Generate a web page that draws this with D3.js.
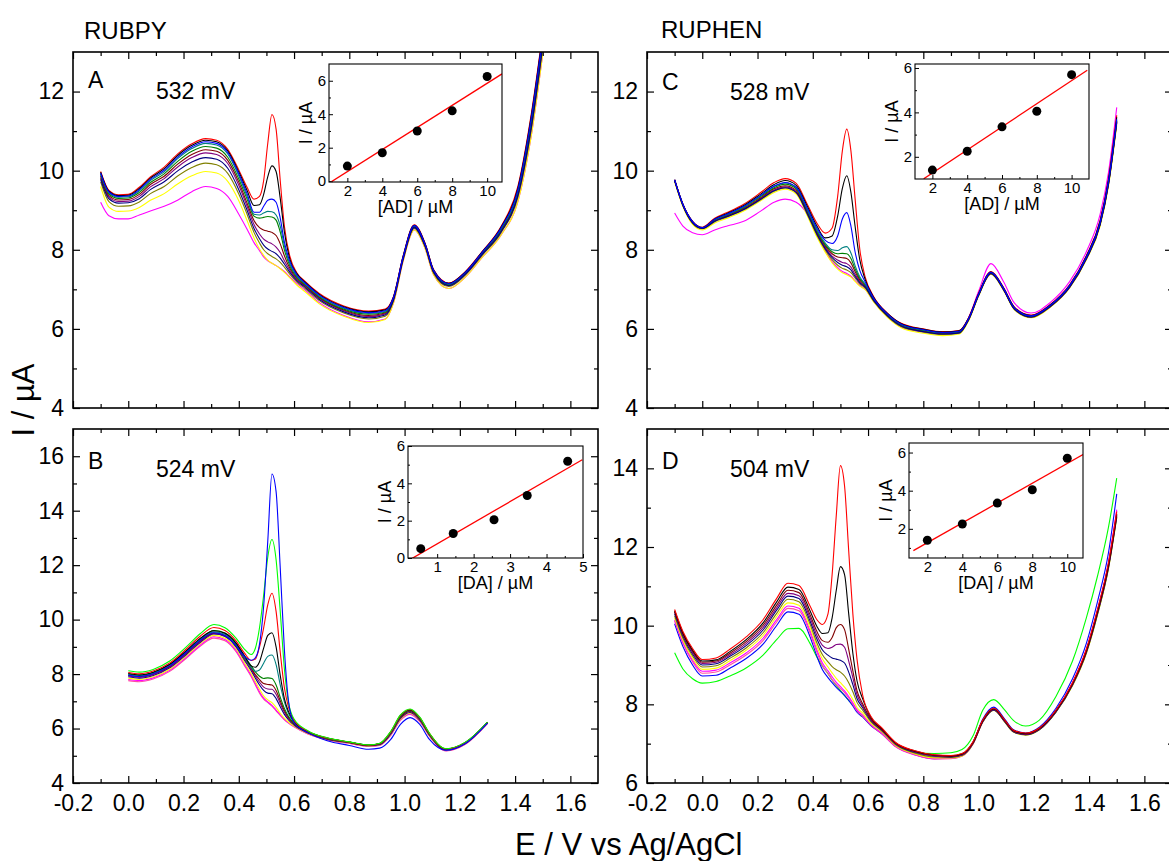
<!DOCTYPE html>
<html>
<head>
<meta charset="utf-8">
<script src="https://cdn.jsdelivr.net/npm/d3@7.9.0/dist/d3.min.js"></script>
<style>
  body { margin: 0; background: #fff; }
  svg text { font-family: "Liberation Sans", Arial, sans-serif; fill: #000; }
</style>
</head>
<body>
<svg id="chart" width="1169" height="861"></svg>
<script>
// ---------- voltammograms (E / V, I / uA) ----------
const potentialA = [-0.1, -0.07, -0.035, 0.0, 0.04, 0.08, 0.13, 0.18, 0.23, 0.28, 0.32, 0.36, 0.4, 0.43, 0.455, 0.475, 0.49, 0.505, 0.52, 0.535, 0.55, 0.565, 0.585, 0.61, 0.64, 0.69, 0.78, 0.87, 0.93, 0.96, 0.995, 1.035, 1.075, 1.105, 1.16, 1.22, 1.28, 1.35, 1.41, 1.46, 1.5];
const coloursA = ["#ff00ff", "#ffff00", "#808000", "#800080", "#800000", "#008000", "#008080", "#ff0000", "#000000", "#000080", "#0000ff"];
const currentsA = [
  [9.2, 8.86, 8.78, 8.78, 8.88, 8.98, 9.1, 9.26, 9.47, 9.6, 9.55, 9.35, 8.9, 8.52, 8.18, 7.98, 7.82, 7.72, 7.66, 7.6, 7.53, 7.45, 7.31, 7.15, 6.98, 6.67, 6.34, 6.18, 6.25, 6.66, 7.72, 8.5, 8.02, 7.37, 7.02, 7.31, 7.8, 8.38, 9.22, 10.95, 12.95],
  [9.6, 9.08, 8.97, 8.98, 9.07, 9.25, 9.42, 9.67, 9.87, 9.98, 9.94, 9.73, 9.24, 8.74, 8.3, 8.02, 7.86, 7.74, 7.66, 7.6, 7.52, 7.43, 7.29, 7.11, 6.94, 6.64, 6.32, 6.16, 6.24, 6.66, 7.72, 8.5, 8.02, 7.37, 7.02, 7.31, 7.8, 8.38, 9.22, 10.95, 12.95],
  [9.72, 9.22, 9.1, 9.11, 9.21, 9.42, 9.6, 9.87, 10.08, 10.19, 10.15, 9.93, 9.41, 8.9, 8.44, 8.17, 8.0, 7.9, 7.83, 7.77, 7.68, 7.56, 7.38, 7.19, 7.02, 6.72, 6.4, 6.25, 6.32, 6.71, 7.75, 8.54, 8.06, 7.41, 7.07, 7.36, 7.85, 8.44, 9.33, 11.1, 13.1],
  [9.82, 9.33, 9.22, 9.23, 9.35, 9.59, 9.8, 10.1, 10.33, 10.45, 10.41, 10.18, 9.63, 9.1, 8.64, 8.4, 8.27, 8.2, 8.15, 8.07, 7.93, 7.72, 7.48, 7.25, 7.08, 6.78, 6.46, 6.31, 6.38, 6.75, 7.78, 8.57, 8.09, 7.44, 7.1, 7.39, 7.88, 8.48, 9.39, 11.2, 13.2],
  [9.86, 9.37, 9.26, 9.27, 9.4, 9.65, 9.86, 10.17, 10.41, 10.53, 10.49, 10.26, 9.71, 9.18, 8.74, 8.56, 8.5, 8.47, 8.44, 8.36, 8.15, 7.85, 7.53, 7.28, 7.1, 6.8, 6.48, 6.34, 6.4, 6.77, 7.8, 8.58, 8.1, 7.45, 7.11, 7.4, 7.9, 8.5, 9.42, 11.25, 13.25],
  [9.9, 9.41, 9.3, 9.31, 9.45, 9.7, 9.92, 10.24, 10.49, 10.61, 10.57, 10.34, 9.79, 9.28, 8.85, 8.8, 8.82, 8.84, 8.83, 8.75, 8.45, 8.0, 7.59, 7.31, 7.12, 6.82, 6.5, 6.37, 6.42, 6.78, 7.81, 8.59, 8.11, 7.46, 7.12, 7.41, 7.91, 8.52, 9.45, 11.3, 13.3],
  [9.92, 9.44, 9.33, 9.34, 9.49, 9.75, 9.97, 10.31, 10.56, 10.69, 10.65, 10.42, 9.87, 9.35, 8.9, 8.88, 8.93, 8.97, 8.96, 8.88, 8.6, 8.1, 7.64, 7.34, 7.14, 6.84, 6.52, 6.39, 6.44, 6.79, 7.82, 8.6, 8.12, 7.47, 7.13, 7.42, 7.92, 8.54, 9.48, 11.35, 13.35],
  [9.98, 9.5, 9.39, 9.4, 9.58, 9.84, 10.09, 10.43, 10.68, 10.81, 10.77, 10.54, 10.02, 9.58, 9.28, 9.35, 9.75, 10.7, 11.42, 11.05, 9.75, 8.6, 7.83, 7.42, 7.2, 6.9, 6.58, 6.45, 6.5, 6.82, 7.85, 8.63, 8.15, 7.5, 7.16, 7.45, 7.95, 8.6, 9.6, 11.5, 13.5],
  [9.96, 9.48, 9.37, 9.38, 9.55, 9.81, 10.05, 10.39, 10.64, 10.77, 10.73, 10.5, 9.97, 9.5, 9.12, 9.14, 9.4, 9.85, 10.12, 9.98, 9.3, 8.45, 7.76, 7.4, 7.18, 6.88, 6.56, 6.43, 6.48, 6.81, 7.84, 8.62, 8.14, 7.49, 7.15, 7.44, 7.94, 8.58, 9.56, 11.45, 13.45],
  [9.78, 9.29, 9.18, 9.19, 9.29, 9.52, 9.72, 10.0, 10.22, 10.33, 10.29, 10.06, 9.52, 9.0, 8.54, 8.28, 8.12, 8.02, 7.96, 7.9, 7.79, 7.64, 7.43, 7.22, 7.05, 6.75, 6.43, 6.28, 6.35, 6.73, 7.77, 8.56, 8.08, 7.43, 7.09, 7.38, 7.87, 8.46, 9.36, 11.15, 13.15],
  [9.94, 9.46, 9.35, 9.36, 9.52, 9.78, 10.01, 10.35, 10.6, 10.73, 10.69, 10.46, 9.92, 9.42, 8.95, 8.95, 9.1, 9.25, 9.28, 9.2, 8.8, 8.2, 7.7, 7.37, 7.16, 6.86, 6.54, 6.41, 6.46, 6.8, 7.83, 8.61, 8.13, 7.48, 7.14, 7.43, 7.93, 8.56, 9.52, 11.4, 13.4]
];

const potentialB = [0.0, 0.04, 0.09, 0.15, 0.21, 0.26, 0.31, 0.35, 0.39, 0.42, 0.445, 0.46, 0.475, 0.49, 0.505, 0.52, 0.535, 0.55, 0.565, 0.58, 0.6, 0.65, 0.72, 0.8, 0.87, 0.91, 0.95, 0.985, 1.02, 1.055, 1.09, 1.15, 1.22, 1.3];
const coloursB = ["#ff4fa0", "#ff00ff", "#ffff00", "#000080", "#800080", "#800000", "#008000", "#008080", "#000000", "#ff0000", "#00ff00", "#0000ff"];
const currentsB = [
  [7.76, 7.72, 7.82, 8.1, 8.58, 9.02, 9.32, 9.22, 8.82, 8.32, 7.9, 7.6, 7.3, 7.08, 6.95, 6.82, 6.65, 6.48, 6.32, 6.2, 6.06, 5.8, 5.58, 5.45, 5.34, 5.38, 5.75, 6.3, 6.52, 6.25, 5.72, 5.18, 5.42, 6.18],
  [7.8, 7.76, 7.86, 8.14, 8.62, 9.06, 9.37, 9.27, 8.87, 8.37, 7.95, 7.65, 7.35, 7.12, 6.98, 6.85, 6.68, 6.5, 6.34, 6.21, 6.07, 5.81, 5.59, 5.46, 5.35, 5.39, 5.76, 6.32, 6.54, 6.27, 5.73, 5.19, 5.43, 6.19],
  [7.85, 7.8, 7.9, 8.18, 8.67, 9.11, 9.42, 9.32, 8.93, 8.43, 8.02, 7.73, 7.45, 7.2, 7.05, 6.95, 6.78, 6.56, 6.38, 6.24, 6.09, 5.82, 5.6, 5.47, 5.36, 5.4, 5.78, 6.34, 6.56, 6.29, 5.74, 5.2, 5.44, 6.2],
  [7.9, 7.85, 7.95, 8.23, 8.72, 9.16, 9.47, 9.38, 9.0, 8.52, 8.12, 7.85, 7.6, 7.4, 7.3, 7.28, 7.1, 6.8, 6.52, 6.32, 6.13, 5.84, 5.61, 5.48, 5.37, 5.41, 5.8, 6.37, 6.59, 6.31, 5.76, 5.21, 5.45, 6.21],
  [7.93, 7.88, 7.98, 8.26, 8.75, 9.19, 9.49, 9.4, 9.03, 8.56, 8.17, 7.92, 7.7, 7.52, 7.45, 7.44, 7.26, 6.92, 6.6, 6.36, 6.15, 5.85, 5.62, 5.49, 5.38, 5.42, 5.82, 6.4, 6.62, 6.33, 5.77, 5.22, 5.46, 6.22],
  [7.96, 7.91, 8.01, 8.29, 8.78, 9.22, 9.51, 9.42, 9.06, 8.6, 8.22, 7.98, 7.8, 7.65, 7.62, 7.6, 7.4, 7.02, 6.66, 6.4, 6.17, 5.86, 5.63, 5.49, 5.38, 5.43, 5.84, 6.42, 6.64, 6.35, 5.78, 5.23, 5.47, 6.22],
  [8.0, 7.95, 8.05, 8.34, 8.84, 9.29, 9.6, 9.51, 9.14, 8.67, 8.3, 8.08, 7.92, 7.84, 7.86, 7.84, 7.6, 7.15, 6.74, 6.44, 6.19, 5.87, 5.64, 5.5, 5.39, 5.44, 5.86, 6.45, 6.66, 6.37, 5.8, 5.24, 5.48, 6.23],
  [7.98, 7.93, 8.03, 8.32, 8.81, 9.26, 9.55, 9.46, 9.09, 8.62, 8.24, 8.1, 8.15, 8.4, 8.65, 8.7, 8.35, 7.6, 6.98, 6.55, 6.23, 5.88, 5.64, 5.5, 5.39, 5.44, 5.86, 6.45, 6.66, 6.37, 5.8, 5.24, 5.48, 6.23],
  [8.02, 7.97, 8.07, 8.36, 8.86, 9.31, 9.59, 9.5, 9.14, 8.68, 8.3, 8.25, 8.45, 8.95, 9.42, 9.52, 9.0, 7.95, 7.1, 6.62, 6.26, 5.89, 5.65, 5.5, 5.39, 5.45, 5.88, 6.47, 6.68, 6.39, 5.81, 5.25, 5.49, 6.23],
  [8.06, 8.01, 8.11, 8.41, 8.92, 9.39, 9.71, 9.6, 9.22, 8.78, 8.5, 8.55, 9.0, 9.7, 10.55, 10.97, 10.3, 8.8, 7.5, 6.78, 6.3, 5.9, 5.65, 5.5, 5.39, 5.45, 5.88, 6.48, 6.7, 6.4, 5.82, 5.25, 5.49, 6.23],
  [8.12, 8.07, 8.17, 8.48, 9.0, 9.48, 9.82, 9.7, 9.32, 8.92, 8.72, 8.95, 9.7, 10.9, 12.3, 12.94, 12.2, 10.3, 8.2, 6.95, 6.35, 5.92, 5.66, 5.51, 5.4, 5.46, 5.9, 6.5, 6.72, 6.42, 5.83, 5.26, 5.5, 6.24],
  [7.96, 7.91, 8.01, 8.3, 8.8, 9.24, 9.52, 9.42, 9.04, 8.66, 8.51, 8.6, 9.1, 10.5, 12.9, 15.35, 14.7, 11.9, 8.9, 7.0, 6.22, 5.85, 5.55, 5.38, 5.24, 5.28, 5.6, 6.15, 6.4, 6.15, 5.6, 5.2, 5.45, 6.2]
];

const potentialC = [-0.1, -0.07, -0.035, 0.0, 0.045, 0.09, 0.15, 0.21, 0.26, 0.3, 0.34, 0.38, 0.415, 0.445, 0.47, 0.49, 0.507, 0.523, 0.538, 0.553, 0.57, 0.59, 0.62, 0.67, 0.72, 0.8, 0.87, 0.93, 0.965, 1.0, 1.045, 1.09, 1.13, 1.19, 1.26, 1.33, 1.39, 1.44, 1.47, 1.5];
const coloursC = ["#ff00ff", "#ffff00", "#808000", "#800080", "#800000", "#008000", "#008080", "#ff0000", "#000000", "#000080", "#0000ff"];
const currentsC = [
  [8.93, 8.6, 8.43, 8.38, 8.5, 8.6, 8.72, 8.97, 9.2, 9.28, 9.2, 8.9, 8.38, 7.98, 7.7, 7.55, 7.45, 7.4, 7.33, 7.22, 7.1, 7.0, 6.7, 6.31, 6.05, 5.92, 5.87, 5.92, 6.3, 6.95, 7.65, 7.2, 6.65, 6.4, 6.67, 7.2, 7.95, 8.9, 9.95, 11.6],
  [9.72, 9.09, 8.64, 8.5, 8.68, 8.8, 8.98, 9.23, 9.45, 9.53, 9.41, 8.86, 8.32, 7.94, 7.67, 7.51, 7.42, 7.37, 7.31, 7.2, 7.08, 6.99, 6.68, 6.29, 6.03, 5.89, 5.83, 5.87, 6.22, 6.83, 7.38, 6.98, 6.48, 6.28, 6.55, 7.04, 7.75, 8.6, 9.6, 11.15],
  [9.74, 9.11, 8.67, 8.53, 8.71, 8.83, 9.01, 9.26, 9.48, 9.56, 9.44, 8.9, 8.37, 8.0, 7.75, 7.61, 7.53, 7.49, 7.42, 7.29, 7.14, 7.03, 6.71, 6.32, 6.06, 5.92, 5.86, 5.89, 6.24, 6.84, 7.39, 6.99, 6.49, 6.29, 6.56, 7.05, 7.76, 8.63, 9.64, 11.2],
  [9.75, 9.13, 8.69, 8.54, 8.73, 8.85, 9.03, 9.29, 9.51, 9.59, 9.47, 8.94, 8.42, 8.06, 7.84, 7.74, 7.68, 7.65, 7.56, 7.38, 7.2, 7.07, 6.73, 6.34, 6.08, 5.94, 5.88, 5.91, 6.25, 6.85, 7.4, 7.0, 6.5, 6.3, 6.57, 7.06, 7.78, 8.65, 9.66, 11.23],
  [9.76, 9.13, 8.69, 8.55, 8.74, 8.86, 9.05, 9.31, 9.54, 9.62, 9.5, 8.97, 8.45, 8.1, 7.9, 7.82, 7.8, 7.78, 7.67, 7.45, 7.24, 7.09, 6.74, 6.35, 6.09, 5.95, 5.89, 5.92, 6.26, 6.86, 7.41, 7.01, 6.51, 6.31, 6.58, 7.07, 7.79, 8.66, 9.68, 11.25],
  [9.76, 9.14, 8.7, 8.55, 8.75, 8.88, 9.07, 9.34, 9.57, 9.66, 9.54, 9.0, 8.48, 8.13, 7.95, 7.9, 7.91, 7.9, 7.78, 7.52, 7.28, 7.11, 6.75, 6.36, 6.1, 5.96, 5.9, 5.92, 6.27, 6.86, 7.42, 7.02, 6.52, 6.32, 6.59, 7.08, 7.8, 8.67, 9.7, 11.26],
  [9.76, 9.14, 8.7, 8.56, 8.76, 8.89, 9.09, 9.36, 9.6, 9.69, 9.57, 9.02, 8.5, 8.17, 8.0, 7.98, 8.05, 8.08, 7.92, 7.6, 7.32, 7.13, 6.76, 6.37, 6.11, 5.97, 5.9, 5.93, 6.27, 6.87, 7.42, 7.02, 6.52, 6.32, 6.59, 7.09, 7.81, 8.68, 9.72, 11.28],
  [9.77, 9.15, 8.72, 8.57, 8.8, 8.94, 9.15, 9.44, 9.7, 9.8, 9.68, 9.15, 8.67, 8.42, 8.55, 9.35, 10.5, 11.05, 10.5, 9.3, 8.02, 7.3, 6.82, 6.4, 6.14, 6.0, 5.93, 5.96, 6.3, 6.9, 7.45, 7.05, 6.55, 6.35, 6.62, 7.12, 7.85, 8.75, 9.8, 11.4],
  [9.77, 9.15, 8.71, 8.56, 8.78, 8.92, 9.12, 9.4, 9.65, 9.75, 9.63, 9.1, 8.6, 8.3, 8.35, 8.85, 9.55, 9.87, 9.45, 8.6, 7.75, 7.24, 6.8, 6.39, 6.13, 5.99, 5.92, 5.95, 6.29, 6.89, 7.44, 7.04, 6.54, 6.34, 6.61, 7.11, 7.84, 8.73, 9.77, 11.35],
  [9.75, 9.12, 8.68, 8.54, 8.72, 8.84, 9.02, 9.27, 9.49, 9.57, 9.45, 8.92, 8.4, 8.03, 7.8, 7.68, 7.61, 7.57, 7.49, 7.33, 7.17, 7.05, 6.72, 6.33, 6.07, 5.93, 5.87, 5.9, 6.25, 6.85, 7.4, 7.0, 6.5, 6.3, 6.57, 7.06, 7.77, 8.64, 9.65, 11.22],
  [9.77, 9.15, 8.71, 8.56, 8.77, 8.9, 9.1, 9.37, 9.61, 9.7, 9.58, 9.05, 8.55, 8.24, 8.16, 8.35, 8.78, 8.94, 8.6, 7.95, 7.48, 7.18, 6.78, 6.38, 6.12, 5.98, 5.91, 5.94, 6.28, 6.88, 7.43, 7.03, 6.53, 6.33, 6.6, 7.1, 7.82, 8.7, 9.74, 11.3]
];

const potentialD = [-0.1, -0.07, -0.035, 0.0, 0.05, 0.1, 0.16, 0.22, 0.27, 0.31, 0.35, 0.39, 0.415, 0.435, 0.455, 0.47, 0.485, 0.5, 0.515, 0.53, 0.545, 0.56, 0.58, 0.61, 0.65, 0.7, 0.77, 0.84, 0.9, 0.94, 0.98, 1.015, 1.055, 1.095, 1.125, 1.17, 1.22, 1.28, 1.34, 1.39, 1.43, 1.47, 1.5];
const coloursD = ["#00ff00", "#0000ff", "#ff4fa0", "#ff00ff", "#ffff00", "#808000", "#000080", "#800080", "#800000", "#000000", "#ff0000"];
const currentsD = [
  [9.31, 8.9, 8.65, 8.54, 8.58, 8.72, 8.93, 9.25, 9.65, 9.92, 9.93, 9.55, 9.2, 8.97, 8.78, 8.62, 8.48, 8.35, 8.22, 8.1, 7.98, 7.85, 7.7, 7.48, 7.28, 6.98, 6.78, 6.75, 6.77, 6.85, 7.2, 7.85, 8.12, 7.85, 7.6, 7.45, 7.6, 8.2, 9.1, 10.2, 11.25, 12.5, 13.75],
  [10.05, 9.47, 9.0, 8.72, 8.74, 8.92, 9.17, 9.53, 10.01, 10.35, 10.29, 9.72, 9.22, 8.88, 8.68, 8.55, 8.43, 8.33, 8.23, 8.1, 7.96, 7.8, 7.68, 7.46, 7.25, 6.93, 6.72, 6.62, 6.63, 6.7, 7.03, 7.62, 7.93, 7.62, 7.36, 7.27, 7.42, 7.9, 8.65, 9.55, 10.6, 11.85, 13.35],
  [10.12, 9.55, 9.08, 8.79, 8.82, 9.0, 9.26, 9.62, 10.1, 10.44, 10.38, 9.81, 9.32, 8.98, 8.78, 8.63, 8.5, 8.4, 8.3, 8.16, 8.0, 7.83, 7.7, 7.47, 7.25, 6.92, 6.71, 6.61, 6.62, 6.68, 6.99, 7.55, 7.86, 7.56, 7.31, 7.23, 7.37, 7.83, 8.54, 9.38, 10.38, 11.58, 12.92],
  [10.15, 9.58, 9.12, 8.84, 8.87, 9.05, 9.31, 9.68, 10.16, 10.5, 10.44, 9.87, 9.38, 9.05, 8.85, 8.7, 8.56, 8.45, 8.34, 8.2, 8.04, 7.86, 7.73, 7.49, 7.27, 6.93, 6.72, 6.62, 6.63, 6.69, 7.0, 7.56, 7.87, 7.57, 7.32, 7.24, 7.38, 7.84, 8.55, 9.4, 10.4, 11.6, 12.95],
  [10.2, 9.63, 9.17, 8.89, 8.92, 9.11, 9.38, 9.75, 10.24, 10.58, 10.52, 9.95, 9.47, 9.15, 8.95, 8.8, 8.66, 8.55, 8.44, 8.3, 8.12, 7.92, 7.78, 7.52, 7.3, 6.95, 6.74, 6.64, 6.64, 6.69, 7.0, 7.55, 7.85, 7.55, 7.3, 7.22, 7.35, 7.8, 8.48, 9.3, 10.27, 11.45, 12.75],
  [10.25, 9.68, 9.23, 8.95, 8.98, 9.17, 9.44, 9.82, 10.32, 10.67, 10.61, 10.04, 9.56, 9.26, 9.08, 8.96, 8.88, 8.82, 8.72, 8.55, 8.32, 8.05, 7.86, 7.56, 7.32, 6.97, 6.76, 6.66, 6.65, 6.7, 7.0, 7.55, 7.85, 7.55, 7.3, 7.22, 7.35, 7.8, 8.48, 9.3, 10.27, 11.45, 12.75],
  [10.3, 9.73, 9.28, 9.0, 9.03, 9.22, 9.5, 9.89, 10.4, 10.75, 10.69, 10.12, 9.66, 9.38, 9.25, 9.18, 9.15, 9.12, 9.05, 8.82, 8.5, 8.15, 7.92, 7.59, 7.34, 6.99, 6.78, 6.68, 6.66, 6.71, 7.01, 7.56, 7.86, 7.56, 7.31, 7.23, 7.36, 7.81, 8.5, 9.33, 10.3, 11.48, 12.78],
  [10.34, 9.77, 9.32, 9.04, 9.07, 9.26, 9.55, 9.95, 10.46, 10.82, 10.76, 10.2, 9.75, 9.5, 9.42, 9.45, 9.52, 9.53, 9.45, 9.1, 8.68, 8.25, 7.97, 7.61, 7.35, 7.0, 6.79, 6.69, 6.67, 6.72, 7.02, 7.57, 7.87, 7.57, 7.32, 7.24, 7.37, 7.82, 8.51, 9.34, 10.32, 11.5, 12.8],
  [10.36, 9.79, 9.35, 9.07, 9.1, 9.3, 9.6, 10.01, 10.53, 10.9, 10.84, 10.28, 9.85, 9.62, 9.58, 9.7, 9.95, 10.03, 9.9, 9.4, 8.85, 8.35, 8.02, 7.63, 7.36, 7.01, 6.8, 6.7, 6.68, 6.73, 7.03, 7.58, 7.88, 7.58, 7.33, 7.25, 7.38, 7.83, 8.52, 9.35, 10.34, 11.52, 12.82],
  [10.38, 9.82, 9.38, 9.1, 9.13, 9.34, 9.65, 10.07, 10.61, 10.98, 10.92, 10.38, 9.98, 9.8, 9.82, 10.2, 10.9, 11.5, 11.3, 10.3, 9.3, 8.6, 8.15, 7.67, 7.38, 7.02, 6.81, 6.71, 6.69, 6.74, 7.04, 7.59, 7.89, 7.59, 7.34, 7.26, 7.39, 7.84, 8.53, 9.37, 10.36, 11.55, 12.85],
  [10.41, 9.85, 9.42, 9.14, 9.18, 9.4, 9.72, 10.15, 10.7, 11.08, 11.02, 10.5, 10.15, 10.03, 10.3, 11.3, 12.8, 14.07, 13.55, 11.9, 10.3, 9.15, 8.25, 7.7, 7.4, 7.03, 6.82, 6.72, 6.7, 6.75, 7.05, 7.6, 7.9, 7.6, 7.35, 7.27, 7.4, 7.85, 8.55, 9.4, 10.4, 11.6, 12.9]
];

// ---------- calibration insets ----------
const concA = [2, 4, 6, 8, 10];
const peakA = [0.9, 1.7, 3.0, 4.2, 6.25];
const concB = [0.55, 1.44, 2.56, 3.47, 4.58];
const peakB = [0.5, 1.31, 2.05, 3.35, 5.18];
const concC = [2, 4, 6, 8, 10];
const peakC = [1.4, 2.25, 3.35, 4.05, 5.7];
const concD = [2, 4, 6, 8, 10];
const peakD = [1.4, 2.25, 3.35, 4.05, 5.7];

const xMajor = [-0.2, 0, 0.2, 0.4, 0.6, 0.8, 1.0, 1.2, 1.4, 1.6];
const xMinor = [-0.1, 0.1, 0.3, 0.5, 0.7, 0.9, 1.1, 1.3, 1.5];

const svg = d3.select('#chart');
const FONT = '"Liberation Sans", Arial, sans-serif';

function styleAxis(g, size) {
  g.attr('font-size', size).attr('font-family', FONT);
  g.select('.domain').remove();
  g.selectAll('line').attr('stroke', '#000').attr('stroke-width', 1.2);
  g.selectAll('text').attr('fill', '#000');
}

function drawPanel(p) {
  const g = svg.append('g').attr('transform', `translate(${p.left},${p.top})`);
  const x = d3.scaleLinear().domain([-0.2, 1.7]).range([0, p.width]);
  const y = d3.scaleLinear().domain(p.yDomain).range([p.height, 0]);

  const clipId = 'clip' + p.id;
  g.append('clipPath').attr('id', clipId)
    .append('rect').attr('width', p.width).attr('height', p.height);

  const line = d3.line()
    .x((d, i) => x(p.potential[i]))
    .y(d => y(d))
    .curve(d3.curveMonotoneX);

  g.append('g').attr('clip-path', `url(#${clipId})`)
    .selectAll('path')
    .data(p.currents)
    .join('path')
    .attr('d', line)
    .attr('fill', 'none')
    .attr('stroke', (d, i) => p.colours[i])
    .attr('stroke-width', 1.1);

  // inward ticks on four sides
  const fmtX = p.xLabels ? (d => d.toFixed(1)) : (() => '');
  const bottom = g.append('g').attr('transform', `translate(0,${p.height})`)
    .call(d3.axisBottom(x).tickValues(xMajor).tickSize(-7).tickPadding(12).tickFormat(fmtX));
  styleAxis(bottom, 23);
  styleAxis(g.append('g').attr('transform', `translate(0,${p.height})`)
    .call(d3.axisBottom(x).tickValues(xMinor).tickSize(-4).tickFormat('')), 10);
  styleAxis(g.append('g').call(d3.axisTop(x).tickValues(xMajor).tickSize(-7).tickFormat('')), 10);
  styleAxis(g.append('g').call(d3.axisTop(x).tickValues(xMinor).tickSize(-4).tickFormat('')), 10);

  const left = g.append('g')
    .call(d3.axisLeft(y).tickValues(p.yMajor).tickSize(-7).tickPadding(9).tickFormat(d3.format('d')));
  styleAxis(left, 23);
  styleAxis(g.append('g').call(d3.axisLeft(y).tickValues(p.yMinor).tickSize(-4).tickFormat('')), 10);
  styleAxis(g.append('g').attr('transform', `translate(${p.width},0)`)
    .call(d3.axisRight(y).tickValues(p.yMajor).tickSize(-7).tickFormat('')), 10);
  styleAxis(g.append('g').attr('transform', `translate(${p.width},0)`)
    .call(d3.axisRight(y).tickValues(p.yMinor).tickSize(-4).tickFormat('')), 10);

  g.append('rect').attr('width', p.width).attr('height', p.height)
    .attr('fill', 'none').attr('stroke', '#000').attr('stroke-width', 1.6);

  g.append('text').attr('x', 15).attr('y', p.letterY).attr('font-size', 23).text(p.id);
  g.append('text').attr('x', 83).attr('y', p.mvY).attr('font-size', 23).text(p.mv);
}

function drawInset(s) {
  const g = svg.append('g').attr('transform', `translate(${s.left},${s.top})`);
  const x = d3.scaleLinear().domain(s.xDomain).range([0, s.width]);
  const y = d3.scaleLinear().domain(s.yDomain).range([s.height, 0]);

  g.append('rect').attr('width', s.width).attr('height', s.height)
    .attr('fill', '#fff');

  const bx = g.append('g').attr('transform', `translate(0,${s.height})`)
    .call(d3.axisBottom(x).tickValues(s.xTicks).tickSize(-4).tickPadding(3).tickFormat(d3.format('d')));
  styleAxis(bx, 15);
  styleAxis(g.append('g').attr('transform', `translate(0,${s.height})`)
    .call(d3.axisBottom(x).tickValues(s.xMinor).tickSize(-2).tickFormat('')), 10);
  const ly = g.append('g')
    .call(d3.axisLeft(y).tickValues(s.yTicks).tickSize(-4).tickPadding(3).tickFormat(d3.format('d')));
  styleAxis(ly, 15);
  styleAxis(g.append('g').call(d3.axisLeft(y).tickValues(s.yMinor).tickSize(-2).tickFormat('')), 10);
  g.selectAll('line').attr('stroke-width', 1);

  // least-squares calibration line
  const mx = d3.mean(s.conc), my = d3.mean(s.peak);
  const slope = d3.sum(s.conc, (c, i) => (c - mx) * (s.peak[i] - my)) /
                d3.sum(s.conc, c => (c - mx) * (c - mx));
  const icpt = my - slope * mx;
  const clipId = 'iclip' + s.id;
  g.append('clipPath').attr('id', clipId)
    .append('rect').attr('width', s.width).attr('height', s.height);
  g.append('line')
    .attr('clip-path', `url(#${clipId})`)
    .attr('x1', x(s.fitSpan[0])).attr('y1', y(icpt + slope * s.fitSpan[0]))
    .attr('x2', x(s.fitSpan[1])).attr('y2', y(icpt + slope * s.fitSpan[1]))
    .attr('stroke', '#ff0000').attr('stroke-width', 1.3);

  g.selectAll('circle.pt')
    .data(s.conc)
    .join('circle')
    .attr('class', 'pt')
    .attr('cx', d => x(d))
    .attr('cy', (d, i) => y(s.peak[i]))
    .attr('r', 4.5)
    .attr('fill', '#000');

  g.append('rect').attr('width', s.width).attr('height', s.height)
    .attr('fill', 'none').attr('stroke', '#000').attr('stroke-width', 1.1);

  g.append('text').attr('x', s.width / 2).attr('y', s.height + 31)
    .attr('text-anchor', 'middle').attr('font-size', 18).text(s.xTitle);
  g.append('text')
    .attr('transform', `translate(-17,${s.height / 2}) rotate(-90)`)
    .attr('text-anchor', 'middle').attr('font-size', 18).text('I / \u00b5A');
}

const panels = [
  { id: 'A', left: 73, top: 52, width: 525, height: 356, yDomain: [4, 13], yMajor: [4, 6, 8, 10, 12], yMinor: [5, 7, 9, 11],
    potential: potentialA, currents: currentsA, colours: coloursA, xLabels: false, mv: '532 mV', letterY: 36, mvY: 47 },
  { id: 'B', left: 73, top: 429, width: 525, height: 354, yDomain: [4, 17], yMajor: [4, 6, 8, 10, 12, 14, 16], yMinor: [5, 7, 9, 11, 13, 15],
    potential: potentialB, currents: currentsB, colours: coloursB, xLabels: true, mv: '524 mV', letterY: 40, mvY: 48 },
  { id: 'C', left: 647, top: 52, width: 525, height: 356, yDomain: [4, 13], yMajor: [4, 6, 8, 10, 12], yMinor: [5, 7, 9, 11],
    potential: potentialC, currents: currentsC, colours: coloursC, xLabels: false, mv: '528 mV', letterY: 38, mvY: 48 },
  { id: 'D', left: 647, top: 429, width: 525, height: 354, yDomain: [6, 15], yMajor: [6, 8, 10, 12, 14], yMinor: [7, 9, 11, 13],
    potential: potentialD, currents: currentsD, colours: coloursD, xLabels: true, mv: '504 mV', letterY: 40, mvY: 48 }
];
panels.forEach(drawPanel);

const insets = [
  { id: 'A', left: 329, top: 64, width: 173, height: 118, xDomain: [0.95, 10.85], yDomain: [-0.05, 7],
    xTicks: [2, 4, 6, 8, 10], xMinor: [3, 5, 7, 9], yTicks: [0, 2, 4, 6], yMinor: [1, 3, 5],
    conc: concA, peak: peakA, fitSpan: [1.1, 10.85], xTitle: '[AD] / \u00b5M' },
  { id: 'B', left: 408, top: 446, width: 175, height: 112, xDomain: [0.2, 5], yDomain: [0, 6],
    xTicks: [1, 2, 3, 4, 5], xMinor: [1.5, 2.5, 3.5, 4.5], yTicks: [0, 2, 4, 6], yMinor: [1, 3, 5],
    conc: concB, peak: peakB, fitSpan: [0.29, 4.98], xTitle: '[DA] / \u00b5M' },
  { id: 'C', left: 915, top: 64, width: 174, height: 115, xDomain: [1, 11], yDomain: [1, 6.18],
    xTicks: [2, 4, 6, 8, 10], xMinor: [3, 5, 7, 9], yTicks: [2, 4, 6], yMinor: [3, 5],
    conc: concC, peak: peakC, fitSpan: [1.5, 10.9], xTitle: '[AD] / \u00b5M' },
  { id: 'D', left: 909, top: 443, width: 174, height: 115, xDomain: [0.95, 10.9], yDomain: [0.47, 6.5],
    xTicks: [2, 4, 6, 8, 10], xMinor: [3, 5, 7, 9], yTicks: [2, 4, 6], yMinor: [1, 3, 5],
    conc: concD, peak: peakD, fitSpan: [1.2, 10.9], xTitle: '[DA] / \u00b5M' }
];
insets.forEach(drawInset);

// figure titles
svg.append('text').attr('x', 84).attr('y', 39).attr('font-size', 24).text('RUBPY');
svg.append('text').attr('x', 661).attr('y', 38).attr('font-size', 24).text('RUPHEN');
svg.append('text').attr('x', 515).attr('y', 855).attr('font-size', 31).text('E / V vs Ag/AgCl');
svg.append('text').attr('transform', 'translate(34,400) rotate(-90)')
  .attr('text-anchor', 'middle').attr('font-size', 31).text('I / \u00b5A');
</script>
</body>
</html>
